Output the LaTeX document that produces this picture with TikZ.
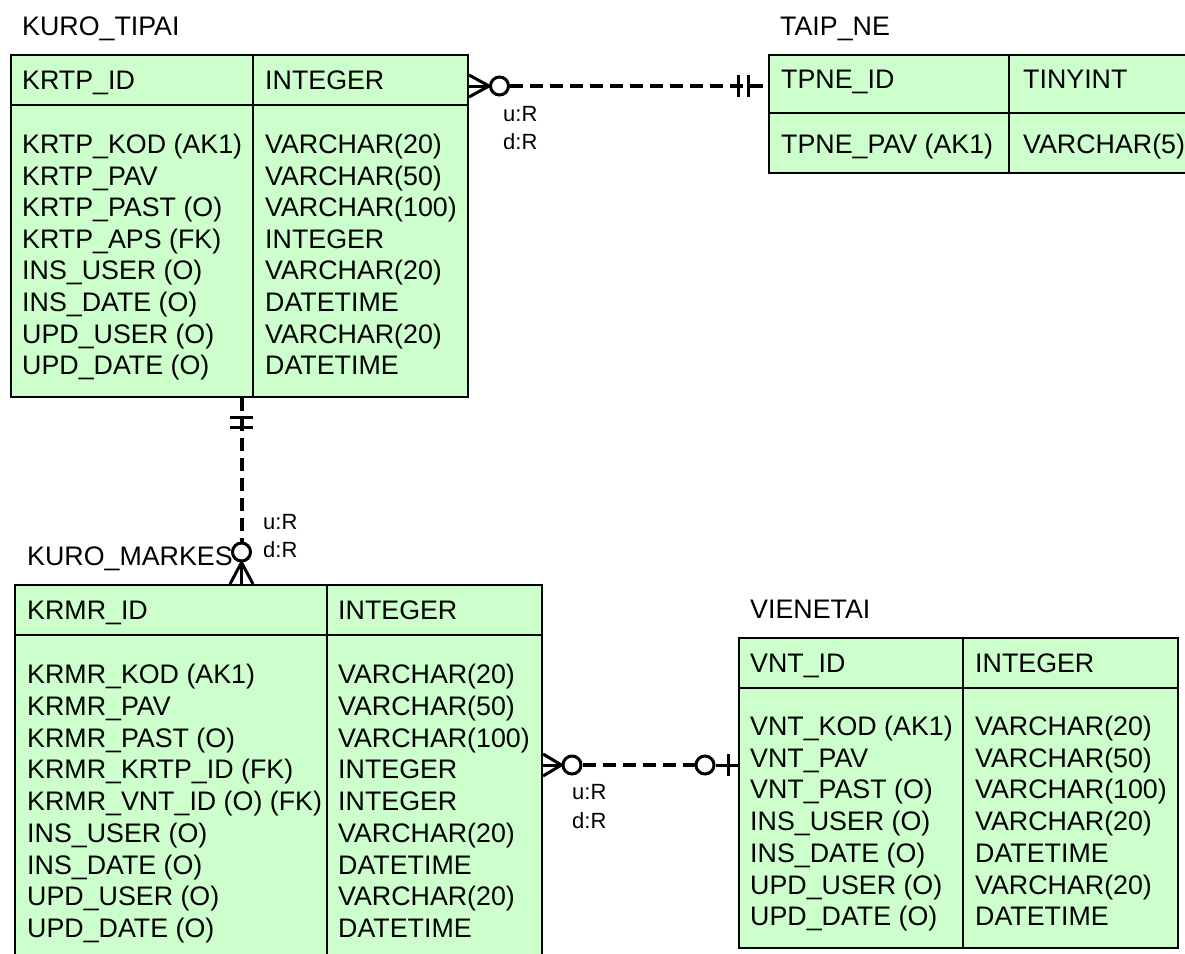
\documentclass[tikz,border=0pt]{standalone}
\usepackage{fontspec}
\setmainfont{Liberation Sans}
\definecolor{ergreen}{HTML}{CCFFCC}
\begin{document}
\begin{tikzpicture}[x=1pt,y=-1pt,
  tbl/.style={draw=black, line width=2pt, fill=ergreen, inner sep=0pt, anchor=north west},
  sep/.style={line width=2pt},
  cell/.style={anchor=base west, inner sep=0pt, font=\fontsize{26.8}{30}\selectfont},
  lbl/.style={anchor=base west, inner sep=0pt, font=\fontsize{22}{26}\selectfont},
  rel/.style={line width=4pt, dash pattern=on 13pt off 7pt},
  foot/.style={line width=3pt},
  ring/.style={circle, draw, line width=3pt, fill=white, minimum size=18pt, inner sep=0pt},
]
\useasboundingbox (0,0) rectangle (1185,953);
\clip (0,0) rectangle (1185,953);

% ---------- KURO_TIPAI ----------
\node[cell] (ktt) at (22,35) {KURO\_TIPAI};
\node[tbl, minimum width=457pt, minimum height=342pt] (kt) at (10,54) {};
\draw[sep] (253,54) -- (253,396);
\draw[sep] (10,105) -- (467,105);
\node[cell] (ktk) at (22,89) {KRTP\_ID};
\node[cell] (ktkt) at (265,89) {INTEGER};
\foreach \t [count=\i from 0] in {{KRTP\_KOD (AK1)},{KRTP\_PAV},{KRTP\_PAST (O)},{KRTP\_APS (FK)},{INS\_USER (O)},{INS\_DATE (O)},{UPD\_USER (O)},{UPD\_DATE (O)}}
  \node[cell] (ktl\i) at (22,{153.5+31.6*\i}) {\t};
\foreach \t [count=\i from 0] in {{VARCHAR(20)},{VARCHAR(50)},{VARCHAR(100)},{INTEGER},{VARCHAR(20)},{DATETIME},{VARCHAR(20)},{DATETIME}}
  \node[cell] (ktr\i) at (265,{153.5+31.6*\i}) {\t};

% ---------- TAIP_NE ----------
\node[cell] (tnt) at (780,35) {TAIP\_NE};
\node[tbl, minimum width=430pt, minimum height=118pt] (tn) at (768,54) {};
\draw[sep] (1009,54) -- (1009,172);
\draw[sep] (768,113) -- (1198,113);
\node[cell] (tnk) at (781,88) {TPNE\_ID};
\node[cell] (tnkt) at (1023,88) {TINYINT};
\node[cell] (tnl0) at (781,153) {TPNE\_PAV (AK1)};
\node[cell] (tnr0) at (1023,153) {VARCHAR(5)};

% ---------- KURO_MARKES ----------
\node[cell] (kmt) at (27,565) {KURO\_MARKES};
\node[tbl, minimum width=527pt, minimum height=390pt] (km) at (14,584) {};
\draw[sep] (327,584) -- (327,974);
\draw[sep] (14,635) -- (541,635);
\node[cell] (kmk) at (27,619) {KRMR\_ID};
\node[cell] (kmkt) at (338,619) {INTEGER};
\foreach \t [count=\i from 0] in {{KRMR\_KOD (AK1)},{KRMR\_PAV},{KRMR\_PAST (O)},{KRMR\_KRTP\_ID (FK)},{KRMR\_VNT\_ID (O) (FK)},{INS\_USER (O)},{INS\_DATE (O)},{UPD\_USER (O)},{UPD\_DATE (O)}}
  \node[cell] (kml\i) at (27,{683.5+31.75*\i}) {\t};
\foreach \t [count=\i from 0] in {{VARCHAR(20)},{VARCHAR(50)},{VARCHAR(100)},{INTEGER},{INTEGER},{VARCHAR(20)},{DATETIME},{VARCHAR(20)},{DATETIME}}
  \node[cell] (kmr\i) at (338,{683.5+31.75*\i}) {\t};

% ---------- VIENETAI ----------
\node[cell] (vnt) at (750,618) {VIENETAI};
\node[tbl, minimum width=439pt, minimum height=310pt] (vn) at (738,637) {};
\draw[sep] (963,637) -- (963,947);
\draw[sep] (738,688) -- (1177,688);
\node[cell] (vnk) at (750,672) {VNT\_ID};
\node[cell] (vnkt) at (975,672) {INTEGER};
\foreach \t [count=\i from 0] in {{VNT\_KOD (AK1)},{VNT\_PAV},{VNT\_PAST (O)},{INS\_USER (O)},{INS\_DATE (O)},{UPD\_USER (O)},{UPD\_DATE (O)}}
  \node[cell] (vnl\i) at (750,{735.5+31.7*\i}) {\t};
\foreach \t [count=\i from 0] in {{VARCHAR(20)},{VARCHAR(50)},{VARCHAR(100)},{VARCHAR(20)},{DATETIME},{VARCHAR(20)},{DATETIME}}
  \node[cell] (vnr\i) at (975,{735.5+31.7*\i}) {\t};

% ---------- KURO_TIPAI >O---|| TAIP_NE ----------
\coordinate (c1a) at (kt.east |- 0,86);
\coordinate (c1b) at (tn.west |- 0,86);
\node[ring] (r1) at (499.5,86) {};
\draw[rel] (r1.east) -- (c1b);
\draw[foot] (kt.east |- 0,75) -- (r1.west) -- (kt.east |- 0,97);
\draw[foot] (c1a) -- (r1.west);
\draw[foot] (738,75) -- (738,97);
\draw[foot] (748,75) -- (748,97);
\node[lbl] (l1u) at (503,121) {u:R};
\node[lbl] (l1d) at (503,149) {d:R};

% ---------- KURO_TIPAI ||---O< KURO_MARKES ----------
\coordinate (c2a) at (kt.south -| 241.5,0);
\coordinate (c2b) at (km.north -| 241.5,0);
\node[ring] (r2) at (241.5,552) {};
\draw[rel] (c2a) -- (r2.north);
\draw[foot] (230,417) -- (253,417);
\draw[foot] (230,427) -- (253,427);
\draw[foot] (230,584) -- (r2.south) -- (253,584);
\draw[foot] (c2b) -- (r2.south);
\node[lbl] (l2u) at (263,529) {u:R};
\node[lbl] (l2d) at (263,557) {d:R};

% ---------- KURO_MARKES >O---O| VIENETAI ----------
\coordinate (c3a) at (km.east |- 0,765);
\coordinate (c3b) at (vn.west |- 0,765);
\node[ring] (r3) at (572,765) {};
\node[ring] (r4) at (705,765) {};
\draw[rel] (r3.east) -- (r4.west);
\draw[foot] (r4.east) -- (c3b);
\draw[foot] (728,754) -- (728,776);
\draw[foot] (km.east |- 0,754) -- (r3.west) -- (km.east |- 0,776);
\draw[foot] (c3a) -- (r3.west);
\node[lbl] (l3u) at (572,799) {u:R};
\node[lbl] (l3d) at (572,828) {d:R};
\end{tikzpicture}
\end{document}
